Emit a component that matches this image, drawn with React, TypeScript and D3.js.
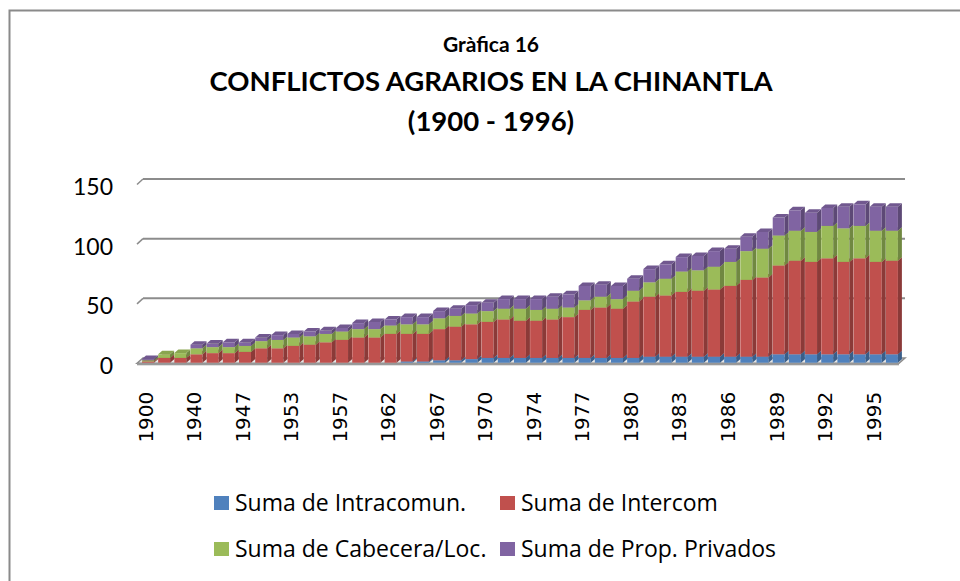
import React from "react";
import * as d3 from "d3";

// categories (year of conflict), only every third is labelled on the axis
const years = [
  "1900", "1920", "1930", "1940", "1942", "1945", "1947", "1949", "1951", "1953",
  "1954", "1955", "1957", "1958", "1960", "1962", "1963", "1965", "1967", "1968",
  "1969", "1970", "1971", "1973", "1974", "1975", "1976", "1977", "1978", "1979",
  "1980", "1981", "1982", "1983", "1984", "1985", "1986", "1987", "1988", "1989",
  "1990", "1991", "1992", "1993", "1994", "1995", "1996",
];

// cumulative counts per conflict type
const intracomun = [
  0, 0, 0, 0, 0, 0, 0, 0, 0, 0, 0, 0, 0, 0, 0, 0, 1, 1, 2, 2, 3, 4, 4, 4, 4,
  4, 4, 4, 4, 4, 4, 5, 5, 5, 5, 5, 5, 5, 5, 7, 7, 7, 7, 7, 7, 7, 7,
];
const intercom = [
  1, 4, 4, 7, 8, 8, 9, 12, 12, 14, 15, 17, 19, 21, 21, 24, 23, 23, 26, 28, 29,
  30, 32, 31, 31, 32, 34, 40, 42, 41, 47, 50, 51, 54, 55, 56, 59, 64, 66, 74,
  78, 77, 80, 77, 80, 77, 78,
];
const cabecera = [
  1, 3, 4, 5, 5, 5, 5, 6, 7, 7, 7, 7, 7, 7, 7, 7, 8, 8, 9, 9, 9, 9, 9, 10, 9,
  9, 8, 8, 9, 8, 9, 12, 14, 17, 17, 19, 20, 24, 24, 25, 25, 25, 27, 28, 27, 26,
  25,
];
const privados = [
  1, 0, 0, 3, 3, 4, 3, 3, 4, 3, 4, 3, 3, 5, 6, 5, 6, 6, 6, 6, 7, 7, 8, 8, 9,
  10, 11, 12, 10, 11, 10, 11, 12, 12, 12, 13, 11, 12, 14, 15, 17, 16, 15, 18,
  18, 20, 20,
];

const seriesNames = [
  "Suma de Intracomun.",
  "Suma de Intercom",
  "Suma de Cabecera/Loc.",
  "Suma de Prop. Privados",
];
const seriesColors = ["#4F81BD", "#C0504D", "#9BBB59", "#8064A2"];
const yTicks = [0, 50, 100, 150];

const W = 960;
const H = 581;
const DX = 4; // depth offset of the bars
const DY = 3.5;

export default function App() {
  const rows = years.map((year, i) => ({
    year,
    s0: intracomun[i],
    s1: intercom[i],
    s2: cabecera[i],
    s3: privados[i],
  }));
  const keys = ["s0", "s1", "s2", "s3"];
  const stacked = d3.stack<any>().keys(keys)(rows);

  const x = d3.scaleBand().domain(years).range([139.9, 900]);
  const bw = x.step() * 0.74;
  // front face of bars
  const y = d3.scaleLinear().domain([0, 150]).range([362.7, 182.7]);
  // back wall gridlines
  const yWall = d3.scaleLinear().domain([0, 150]).range([358, 179]);

  const wallLeft = 143;
  const wallRight = 905;

  const shade = (c: string, k: number) => d3.color(c)!.darker(k).formatHex();

  return (
    <svg
      width={W}
      height={H}
      style={{ position: "absolute", left: 0, top: 0, background: "#fff" }}
      fontFamily="Lato, 'Open Sans', sans-serif"
    >
      <rect x={9.5} y={10.5} width={1000} height={1000} fill="#fff" stroke="#8a8a8a" strokeWidth={2} />

      {/* titles */}
      <text x={491} y={52} textAnchor="middle" fontWeight="bold" fontSize={21}>
        Gràfica 16
      </text>
      <text x={491} y={91} textAnchor="middle" fontWeight="bold" fontSize={27.5}>
        CONFLICTOS AGRARIOS EN LA CHINANTLA
      </text>
      <text x={491} y={131} textAnchor="middle" fontWeight="bold" fontSize={27.5}>
        (1900 - 1996)
      </text>

      {/* floor */}
      <path
        d={`M${wallLeft - 6},${yWall(0) + 5.3} L${wallLeft},${yWall(0)} L${wallRight},${yWall(0)} L${wallRight - 6},${yWall(0) + 5.3} Z`}
        fill="#e6e6e6"
        stroke="#8c8c8c"
        strokeWidth={1.5}
      />
      <rect x={wallLeft - 6} y={yWall(0) + 5.3} width={wallRight - wallLeft} height={2} fill="#9a9a9a" />

      {/* gridlines on back wall with the left stubs */}
      {yTicks.filter((t) => t > 0).map((t) => (
        <g key={t}>
          <line x1={wallLeft} x2={wallRight} y1={yWall(t)} y2={yWall(t)} stroke="#8c8c8c" strokeWidth={2} />
          <line x1={wallLeft - 6} x2={wallLeft} y1={yWall(t) + 5.5} y2={yWall(t)} stroke="#8c8c8c" strokeWidth={1.5} />
        </g>
      ))}

      {/* y tick labels */}
      {yTicks.map((t) => (
        <text key={t} x={113} y={yWall(t) + 16} textAnchor="end" fontSize={23}>
          {t}
        </text>
      ))}

      {/* stacked 3d columns */}
      {years.map((year, i) => {
        const x0 = x(year)! + x.bandwidth() / 2 - bw / 2;
        const x1 = x0 + bw;
        return (
          <g key={year}>
            {stacked.map((s, k) => {
              const [a, b] = s[i];
              if (b - a <= 0) return null;
              const yb = y(a);
              const yt = y(b);
              const col = seriesColors[k];
              return (
                <g key={k}>
                  <rect x={x0} y={yt} width={bw} height={yb - yt} fill={col} />
                  <path
                    d={`M${x1},${yb} L${x1 + DX},${yb - DY} L${x1 + DX},${yt - DY} L${x1},${yt} Z`}
                    fill={shade(col, 0.9)}
                  />
                  <path
                    d={`M${x0},${yt} L${x0 + DX},${yt - DY} L${x1 + DX},${yt - DY} L${x1},${yt} Z`}
                    fill={shade(col, 0.35)}
                  />
                </g>
              );
            })}
          </g>
        );
      })}

      {/* x tick labels, every third category */}
      {years.map((year, i) =>
        i % 3 === 0 ? (
          <text
            key={year}
            transform={`translate(${x(year)! + x.bandwidth() / 2 + 4.8},391.7) rotate(-90)`}
            textAnchor="end"
            fontSize={20}
            fontFamily="'DejaVu Sans', sans-serif"
          >
            {year}
          </text>
        ) : null
      )}

      {/* legend */}
      {seriesNames.map((name, k) => {
        const lx = k % 2 === 0 ? 214 : 500;
        const ly = k < 2 ? 511 : 557;
        return (
          <g key={name}>
            <rect x={lx} y={ly - 15} width={15} height={14} fill={seriesColors[k]} />
            <text x={lx + 21} y={ly} fontSize={23} fontFamily="'Open Sans', sans-serif">
              {name}
            </text>
          </g>
        );
      })}
    </svg>
  );
}
